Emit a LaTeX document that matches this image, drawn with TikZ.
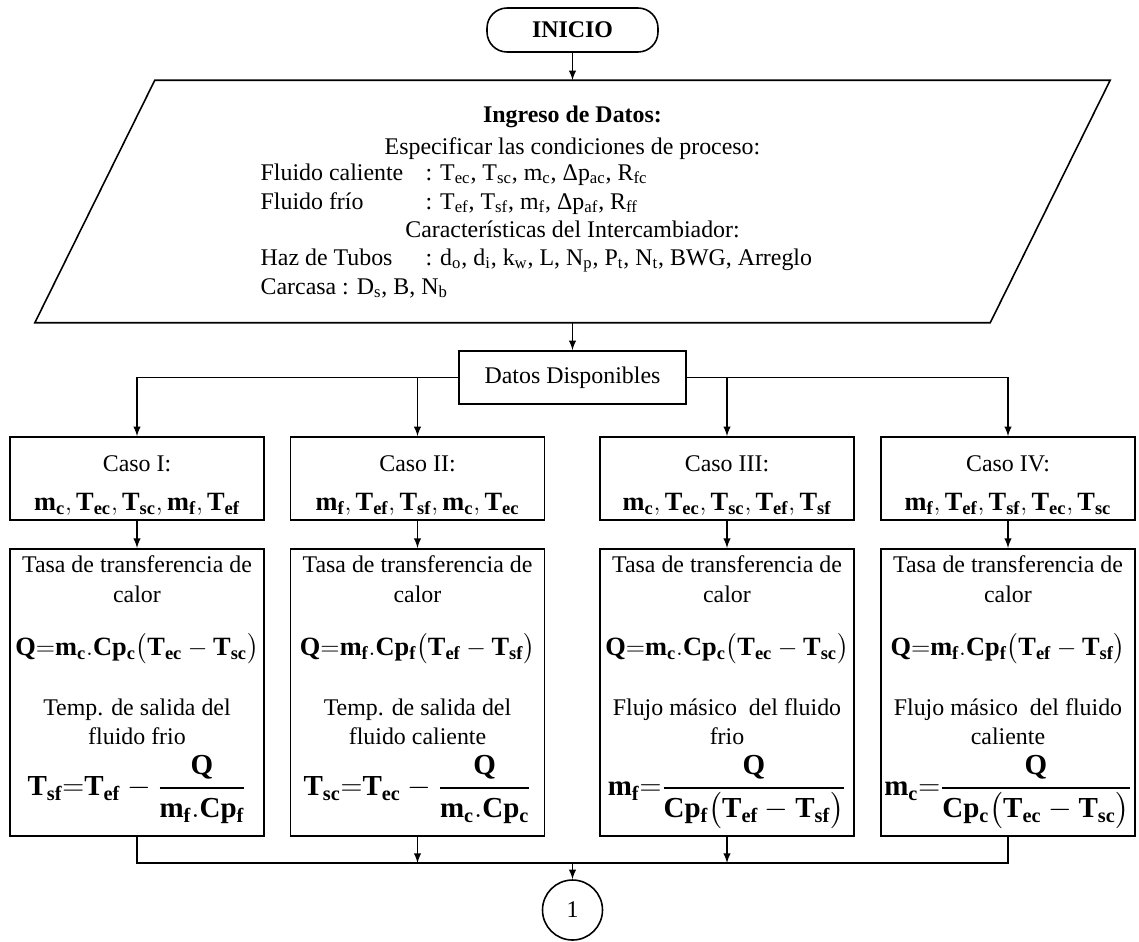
\documentclass[tikz,border=0pt]{standalone}
\usepackage{amsmath}
\usepackage{fontspec}
\setmainfont{Liberation Serif}
\usetikzlibrary{arrows}
\usetikzlibrary{math}
\newcommand{\fmla}[1]{{\fontsize{15}{18}\selectfont$\mathbf{#1}$}}
\newcommand{\fmlb}[1]{{\fontsize{16.5}{20}\selectfont$\mathbf{#1}$}}

\begin{document}
\begin{tikzpicture}[x=0.02cm,y=-0.02cm,line width=0.9pt,
font=\fontsize{13.6}{17}\selectfont,
caja/.style={draw,rectangle,align=center,inner sep=1pt,minimum width=5.08cm},
flecha/.style={-latex}]
\tikzmath{
\xmid=572.5;
\cola=137;
\colb=417.5;
\colc=727;
\cold=1008;
\ycaso=478.5;
\ytasa=548;
\yunion=863;
}
\useasboundingbox (0,0) rectangle (1139,941);

% inicio
\node[draw,rounded corners=0.4cm,minimum width=3.42cm,minimum height=0.88cm] (inicio) at (\xmid,30) {\textbf{INICIO}};

% ingreso de datos
\node[minimum width=19.08cm,minimum height=4.82cm,inner sep=0pt] (ingreso) at (\xmid,201.5) {};
\draw ([xshift=1.2cm]ingreso.north west) -- ([xshift=1.2cm]ingreso.north east) -- ([xshift=-1.2cm]ingreso.south east) -- ([xshift=-1.2cm]ingreso.south west) -- cycle;

\node[anchor=base] (titulo) at (\xmid,122) {\textbf{Ingreso de Datos:}};
\node[anchor=base] (proceso) at (\xmid,154) {Especificar las condiciones de proceso:};
\node[anchor=base west] (caliente) at (254,180) {\makebox[3.3cm][l]{Fluido caliente}: T\textsubscript{ec}, T\textsubscript{sc}, m\textsubscript{c}, Δp\textsubscript{ac}, R\textsubscript{fc}};
\node[anchor=base west] (frio) at (254,209) {\makebox[3.3cm][l]{Fluido frío}: T\textsubscript{ef}, T\textsubscript{sf}, m\textsubscript{f}, Δp\textsubscript{af}, R\textsubscript{ff}};
\node[anchor=base] (caract) at (\xmid,237) {Características del Intercambiador:};
\node[anchor=base west] (tubos) at (254,265) {\makebox[3.3cm][l]{Haz de Tubos}: d\textsubscript{o}, d\textsubscript{i}, k\textsubscript{w}, L, N\textsubscript{p}, P\textsubscript{t}, N\textsubscript{t}, BWG, Arreglo};
\node[anchor=base west] (carcasa) at (254,294) {Carcasa : D\textsubscript{s}, B, N\textsubscript{b}};

% datos disponibles
\node[caja,minimum width=4.54cm,minimum height=1.06cm] (datos) at (\xmid,377.5) {Datos Disponibles};

% casos
\node[caja,minimum height=1.66cm] (caso1) at (\cola,\ycaso) {\rule{0pt}{17pt}Caso I:\\[5pt] \fmla{m_c,T_{ec},T_{sc},m_f,T_{ef}}};
\node[caja,minimum height=1.66cm] (caso2) at (\colb,\ycaso) {\rule{0pt}{17pt}Caso II:\\[5pt] \fmla{m_f,T_{ef},T_{sf},m_c,T_{ec}}};
\node[caja,minimum height=1.66cm] (caso3) at (\colc,\ycaso) {\rule{0pt}{17pt}Caso III:\\[5pt] \fmla{m_c,T_{ec},T_{sc},T_{ef},T_{sf}}};
\node[caja,minimum height=1.66cm] (caso4) at (\cold,\ycaso) {\rule{0pt}{17pt}Caso IV:\\[5pt] \fmla{m_f,T_{ef},T_{sf},T_{ec},T_{sc}}};

% calculos
\node[caja,anchor=north,minimum height=5.74cm] (tasa1) at (\cola,\ytasa) {Tasa de transferencia de\\ calor\\[13pt]
\fmla{Q{=}m_c.Cp_c\big(T_{ec}-T_{sc}\big)}\\[17pt]
Temp. de salida del\\ fluido frio\\[5pt]
\fmlb{T_{sf}{=}T_{ef}-\dfrac{Q}{m_f.Cp_f\vphantom{\big(}}}};
\node[caja,anchor=north,minimum height=5.74cm] (tasa2) at (\colb,\ytasa) {Tasa de transferencia de\\ calor\\[13pt]
\fmla{Q{=}m_f.Cp_f\big(T_{ef}-T_{sf}\big)}\\[17pt]
Temp. de salida del\\ fluido caliente\\[5pt]
\fmlb{T_{sc}{=}T_{ec}-\dfrac{Q}{m_c.Cp_c\vphantom{\big(}}}};
\node[caja,anchor=north,minimum height=5.74cm] (tasa3) at (\colc,\ytasa) {Tasa de transferencia de\\ calor\\[13pt]
\fmla{Q{=}m_c.Cp_c\big(T_{ec}-T_{sc}\big)}\\[17pt]
Flujo másico~ del fluido\\ frio\\[5pt]
\fmlb{m_f{=}\dfrac{Q}{Cp_f\big(T_{ef}-T_{sf}\big)}}};
\node[caja,anchor=north,minimum height=5.74cm] (tasa4) at (\cold,\ytasa) {Tasa de transferencia de\\ calor\\[13pt]
\fmla{Q{=}m_f.Cp_f\big(T_{ef}-T_{sf}\big)}\\[17pt]
Flujo másico~ del fluido\\ caliente\\[5pt]
\fmlb{m_c{=}\dfrac{Q}{Cp_c\big(T_{ec}-T_{sc}\big)}}};

% conector final
\coordinate (union) at (\xmid,\yunion);
\node[draw,circle,minimum size=1.2cm,inner sep=0pt] (fin) at (\xmid,910) {1};

\draw[flecha] (inicio) -- (ingreso);
\draw[flecha] (ingreso) -- (datos);
\draw[flecha] (datos.west) -| (caso1);
\draw[flecha] (datos.west) -| (caso2);
\draw[flecha] (datos.east) -| (caso3);
\draw[flecha] (datos.east) -| (caso4);
\draw[flecha] (caso1) -- (tasa1);
\draw[flecha] (caso2) -- (tasa2);
\draw[flecha] (caso3) -- (tasa3);
\draw[flecha] (caso4) -- (tasa4);
\draw (tasa1.south) |- (union) -| (tasa4.south);
\draw[flecha] (tasa2.south) -- (tasa2.south |- union);
\draw[flecha] (tasa3.south) -- (tasa3.south |- union);
\draw[flecha] (union) -- (fin);
\end{tikzpicture}
\end{document}
